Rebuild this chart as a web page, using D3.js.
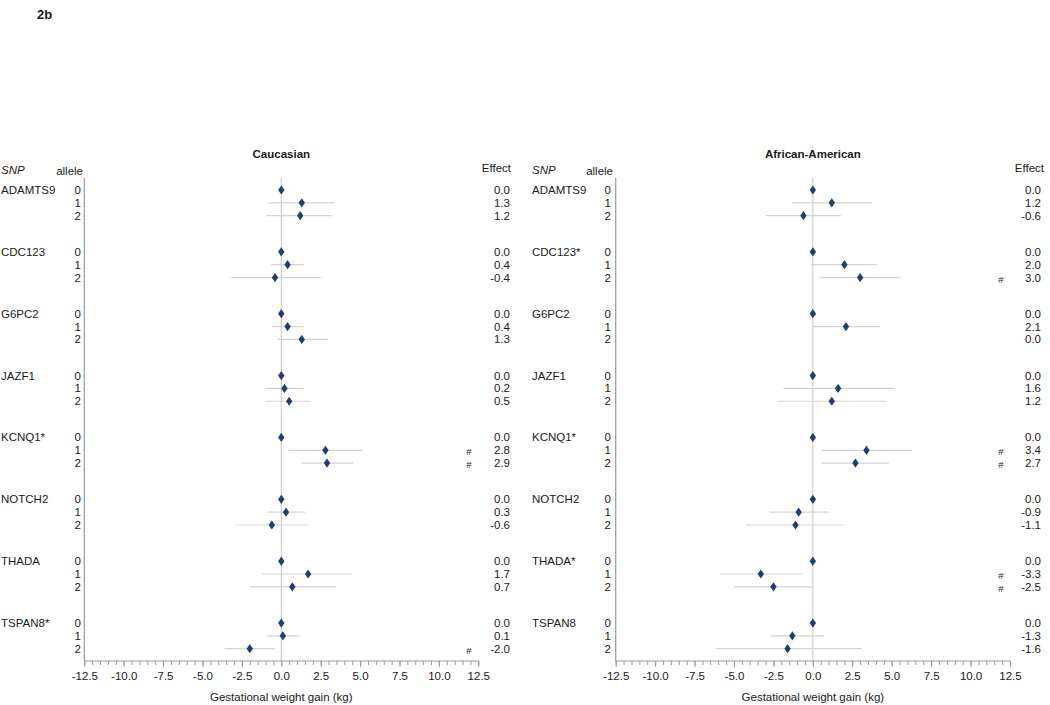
<!DOCTYPE html>
<html>
<head>
<meta charset="utf-8">
<script src="https://cdn.jsdelivr.net/npm/d3@7"></script>
<style>
  body { margin: 0; background: #fff; }
  svg { display: block; font-family: "Liberation Sans", Arial, Helvetica, sans-serif; }
</style>
</head>
<body>
<svg id="chart" width="1050" height="705"></svg>
<script>
// ---------- data ----------
const snps = ["ADAMTS9", "CDC123", "G6PC2", "JAZF1", "KCNQ1", "NOTCH2", "THADA", "TSPAN8"];
const alleles = [0, 1, 2];

const cauTitle = "Caucasian";
const cauStar = [false, false, false, false, true, false, false, true];
const cauEffect = [[0.0, 1.3, 1.2], [0.0, 0.4, -0.4], [0.0, 0.4, 1.3], [0.0, 0.2, 0.5],
                   [0.0, 2.8, 2.9], [0.0, 0.3, -0.6], [0.0, 1.7, 0.7], [0.0, 0.1, -2.0]];
const cauLower  = [[null, -0.80, -0.95], [null, -0.65, -3.19], [null, -0.59, -0.23], [null, -0.97, -0.95],
                   [null, 0.44, 1.31], [null, -0.80, -2.94], [null, -1.22, -2.03], [null, -0.91, -3.60]];
const cauUpper  = [[null, 3.38, 3.25], [null, 1.42, 2.52], [null, 1.42, 2.94], [null, 1.42, 1.86],
                   [null, 5.14, 4.57], [null, 1.52, 1.71], [null, 4.52, 3.44], [null, 1.16, -0.42]];
const cauSig    = [[0,0,0],[0,0,0],[0,0,0],[0,0,0],[0,1,1],[0,0,0],[0,0,0],[0,0,1]];
const cauShown  = [[1,1,1],[1,1,1],[1,1,1],[1,1,1],[1,1,1],[1,1,1],[1,1,1],[1,1,1]];

const afrTitle = "African-American";
const afrStar = [false, true, false, false, true, false, true, false];
const afrEffect = [[0.0, 1.2, -0.6], [0.0, 2.0, 3.0], [0.0, 2.1, 0.0], [0.0, 1.6, 1.2],
                   [0.0, 3.4, 2.7], [0.0, -0.9, -1.1], [0.0, -3.3, -2.5], [0.0, -1.3, -1.6]];
const afrLower  = [[null, -1.33, -2.96], [null, -0.13, 0.40], [null, 0.00, null], [null, -1.86, -2.22],
                   [null, 0.53, 0.53], [null, -2.77, -4.27], [null, -5.92, -4.99], [null, -2.66, -6.17]];
const afrUpper  = [[null, 3.74, 1.78], [null, 4.06, 5.58], [null, 4.27, null], [null, 5.16, 4.63],
                   [null, 6.30, 4.82], [null, 1.01, 2.03], [null, -0.70, -0.04], [null, 0.70, 3.09]];
const afrSig    = [[0,0,0],[0,0,1],[0,0,0],[0,0,0],[0,1,1],[0,0,0],[0,1,1],[0,0,0]];
const afrShown  = [[1,1,1],[1,1,1],[1,1,0],[1,1,1],[1,1,1],[1,1,1],[1,1,1],[1,1,1]];

const majorTicks = [-12.5, -10.0, -7.5, -5.0, -2.5, 0.0, 2.5, 5.0, 7.5, 10.0, 12.5];
const minorTicks = d3.range(-12.5, 12.51, 0.5);
const xDomain = [-12.5, 12.5];
const axisTitle = "Gestational weight gain (kg)";

// ---------- layout ----------
const svg = d3.select("#chart");
const FS = 11.5;
const TXT = "#1a1a1a";
const fmt = v => d3.format(".1f")(v).replace("\u2212", "-");
const groupStep = 4.82;   // rows per SNP group (3 alleles + gap)
const y = d3.scaleLinear().domain([0, 7 * groupStep + 2]).range([190, 648.7]);
const yTop = 178, yAxis = 661;

svg.append("text").attr("x", 37).attr("y", 19)
  .attr("font-size", 13).attr("font-weight", "bold").attr("fill", TXT).text("2b");

const panels = [
  { title: cauTitle, star: cauStar, eff: cauEffect, lo: cauLower, hi: cauUpper, sig: cauSig, shown: cauShown,
    range: [84.3, 478.3], snpX: 1, alleleX: 81, effX: 510, hashX: 469, headEffX: 511, alleleHeadX: 83 },
  { title: afrTitle, star: afrStar, eff: afrEffect, lo: afrLower, hi: afrUpper, sig: afrSig, shown: afrShown,
    range: [615.7, 1010], snpX: 532, alleleX: 611, effX: 1041, hashX: 1001, headEffX: 1044, alleleHeadX: 613 }
];

panels.forEach(p => {
  const x = d3.scaleLinear().domain(xDomain).range(p.range);
  const g = svg.append("g");

  g.append("text").attr("x", x(0)).attr("y", 158).attr("text-anchor", "middle")
    .attr("font-size", FS).attr("font-weight", "bold").attr("fill", TXT).text(p.title);

  g.append("text").attr("x", p.snpX).attr("y", 174).attr("font-size", FS)
    .attr("font-style", "italic").attr("fill", TXT).text("SNP");
  g.append("text").attr("x", p.alleleHeadX).attr("y", 175).attr("font-size", FS)
    .attr("text-anchor", "end").attr("fill", TXT).text("allele");
  g.append("text").attr("x", p.headEffX).attr("y", 172).attr("font-size", FS)
    .attr("text-anchor", "end").attr("fill", TXT).text("Effect");

  g.append("line").attr("x1", x(0)).attr("x2", x(0)).attr("y1", yTop).attr("y2", yAxis)
    .attr("stroke", "#cfcfcf").attr("stroke-width", 1.2);

  g.append("line").attr("x1", p.range[0]).attr("x2", p.range[0]).attr("y1", yTop).attr("y2", yAxis)
    .attr("stroke", "#9a9a9a").attr("stroke-width", 1.2);

  const rows = [];
  snps.forEach((s, gi) => alleles.forEach(a => rows.push({
    gi, a, snp: s + (p.star[gi] ? "*" : ""),
    e: p.eff[gi][a], lo: p.lo[gi][a], hi: p.hi[gi][a], sig: p.sig[gi][a], shown: p.shown[gi][a],
    yy: y(gi * groupStep + a)
  })));

  g.selectAll("line.ci").data(rows.filter(r => r.lo !== null && r.shown)).join("line")
    .attr("class", "ci")
    .attr("x1", r => x(r.lo)).attr("x2", r => x(r.hi))
    .attr("y1", r => r.yy).attr("y2", r => r.yy)
    .attr("stroke", "#d4d4d4").attr("stroke-width", 1.2);

  g.selectAll("path.pt").data(rows.filter(r => r.shown)).join("path")
    .attr("class", "pt")
    .attr("transform", r => `translate(${x(r.e)},${r.yy})`)
    .attr("d", "M0,-4.6L3.2,0L0,4.6L-3.2,0Z")
    .attr("fill", "#213d72");

  g.selectAll("text.snp").data(rows.filter(r => r.a === 0)).join("text")
    .attr("class", "snp").attr("x", p.snpX).attr("y", r => r.yy + 4)
    .attr("font-size", FS).attr("fill", TXT).text(r => r.snp);

  g.selectAll("text.al").data(rows).join("text")
    .attr("class", "al").attr("x", p.alleleX).attr("y", r => r.yy + 4)
    .attr("text-anchor", "end").attr("font-size", FS).attr("fill", TXT).text(r => r.a);

  g.selectAll("text.ef").data(rows).join("text")
    .attr("class", "ef").attr("x", p.effX).attr("y", r => r.yy + 4)
    .attr("text-anchor", "end").attr("font-size", FS).attr("fill", TXT)
    .text(r => fmt(r.e));

  g.selectAll("text.hash").data(rows.filter(r => r.sig)).join("text")
    .attr("class", "hash").attr("x", p.hashX).attr("y", r => r.yy + 5)
    .attr("text-anchor", "middle").attr("font-size", 9.5).attr("fill", TXT).text("#");

  const ax = g.append("g").attr("transform", `translate(0,${yAxis})`);
  ax.call(d3.axisBottom(x).tickValues(minorTicks).tickSize(4).tickFormat(""))
    .call(s => s.select(".domain").remove())
    .call(s => s.selectAll("line").attr("stroke", "#9a9a9a"));
  const ax2 = g.append("g").attr("transform", `translate(0,${yAxis})`);
  ax2.call(d3.axisBottom(x).tickValues(majorTicks).tickSize(6).tickPadding(5).tickFormat(fmt))
    .call(s => s.select(".domain").attr("stroke", "#9a9a9a").attr("stroke-width", 1.2)
      .attr("d", `M${p.range[0]},0H${p.range[1]}`))
    .call(s => s.selectAll("line").attr("stroke", "#9a9a9a"))
    .call(s => s.selectAll("text").attr("font-size", FS).attr("fill", TXT)
      .attr("font-family", "Liberation Sans, Arial, sans-serif"));

  g.append("text").attr("x", x(0)).attr("y", 701).attr("text-anchor", "middle")
    .attr("font-size", FS).attr("fill", TXT).text(axisTitle);
});
</script>
</body>
</html>
